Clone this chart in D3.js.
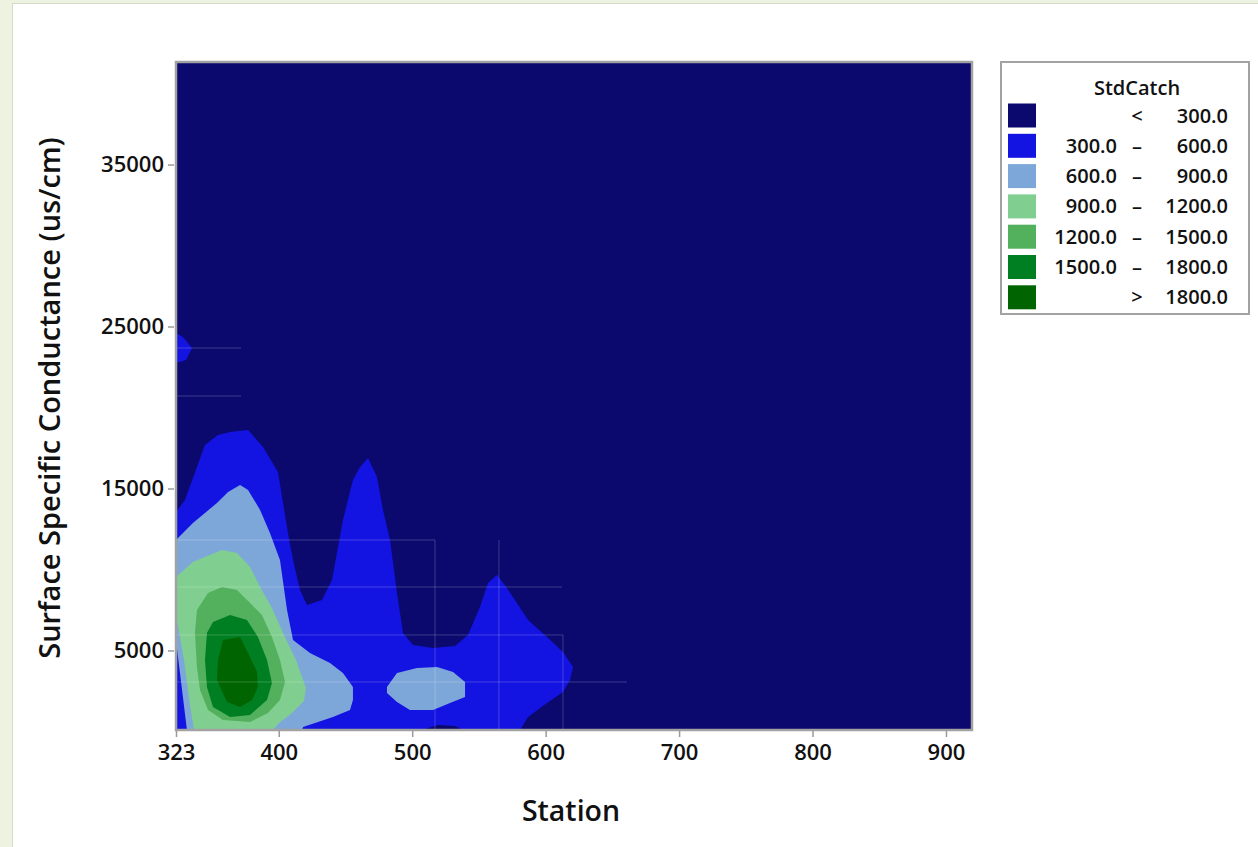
<!DOCTYPE html>
<html>
<head>
<meta charset="utf-8">
<script src="https://cdn.jsdelivr.net/npm/d3@7"></script>
<style>
  html, body { margin: 0; padding: 0; background: #eef2e1; }
  svg { display: block; font-family: "Open Sans", "Noto Sans", sans-serif; }
</style>
</head>
<body>
<div id="chart"></div>
<script>
// ticks
const stationTicks = [323, 400, 500, 600, 700, 800, 900];
const condTicks = [5000, 15000, 25000, 35000];

// contour levels of StdCatch and their fills
const levels = [300, 600, 900, 1200, 1500, 1800];
const levelColors = ["#0b096e", "#1414e2", "#7ea7d9", "#80cf90", "#53b05d", "#007f22", "#006400"];

// regions above each level as [station, conductance]
const above300 = [
  [[323, 90], [323, 13550], [329.7, 14290], [344.7, 17685], [354.5, 18303], [363.5, 18488],
   [377, 18611], [388.2, 17562], [399.4, 16019], [403.2, 14105], [406.9, 12253], [410.7, 10587],
   [415.9, 8735], [421.2, 7809], [432.4, 8117], [439.9, 9352], [448.1, 13056], [455.6, 15525],
   [460.9, 16327], [466.9, 16883], [473.6, 15710], [478.1, 13673], [483.4, 11821], [488.6, 8549],
   [493.1, 6080], [500.6, 5340], [515.6, 5154], [532.1, 5278], [541.8, 5957], [550.8, 7685],
   [556.8, 9167], [563.5, 9661], [571, 8858], [586.8, 6883], [601, 5833], [613, 4907],
   [620.5, 3981], [618.2, 3179], [613, 2438], [601, 1759], [586.8, 895], [580.8, 90],
   [538.1, 90], [532.1, 339], [519.4, 401], [507.3, 90]],
  [[323, 24600], [328.2, 24353], [335, 23674], [330.5, 22933], [323, 22748]]
];
const above600 = [
  [[323, 11821], [335.7, 12871], [353.7, 14105], [362, 14784], [371, 15216], [377, 14908],
   [386, 13673], [393.4, 12253], [400.9, 10587], [406.2, 7500], [410.7, 5648], [423.4, 4846],
   [438.4, 4228], [448.1, 3611], [455.6, 2747], [455.6, 1944], [453.4, 1327], [440.6, 895],
   [418.2, 278], [417.4, 90], [331.2, 90], [323.7, 5154], [323, 5154]],
  [[481.1, 2747], [488.6, 3611], [503.6, 3920], [518.6, 3981], [530.6, 3673], [539.6, 3056],
   [539.6, 2130], [528.3, 1759], [515.6, 1327], [498.3, 1327], [488.6, 1821], [481.1, 2376]]
];
const above900 = [
  [[323, 9537], [335.7, 10463], [357.5, 11204], [368.7, 11019], [378.5, 10155], [386, 8920],
   [394.9, 7624], [403.9, 5957], [412.9, 4414], [420.4, 2686], [418.9, 1882], [409.9, 1142],
   [400.2, 525], [395.7, 90], [336.5, 90], [333.5, 1636], [329, 4414], [323.7, 6883], [323, 6883]]
];
const above1200 = [
  [[338.7, 7500], [347, 8549], [357.5, 8920], [368.7, 8735], [378.5, 7932], [387.4, 7191],
   [394.9, 5833], [400.9, 4414], [404.7, 3056], [400.9, 1944], [391.9, 1142], [378.5, 586],
   [358.2, 710], [347, 1327], [341, 2562], [338.7, 3981], [337.2, 6080]]
];
const above1500 = [
  [[346.2, 6080], [350.7, 6759], [363.5, 7191], [376.2, 6883], [384.4, 5833], [391.2, 4414],
   [394.9, 2994], [391.2, 1944], [378.5, 1018], [363.5, 895], [350.7, 1512], [346.2, 2747],
   [344.7, 4414]]
];
const above1800 = [
  [[358.2, 5648], [371, 5833], [377, 4846], [383.7, 3673], [384.4, 2747], [380, 1944],
   [371, 1512], [361.2, 1821], [353.7, 3179], [354.5, 4414]]
];

// faint mesh lines left by the contouring, [station, cond] to [station, cond]
const meshLines = [
  [[323, 23673], [371.7, 23673]],
  [[323, 20710], [371.7, 20710]],
  [[323, 11821], [517.1, 11821]],
  [[323, 8920], [612.2, 8920]],
  [[323, 5957], [613, 5957]],
  [[323, 3056], [661, 3056]],
  [[517.1, 11821], [517.1, 90]],
  [[565, 11821], [565, 90]],
  [[613, 5957], [613, 90]]
];

const regions = [above300, above600, above900, above1200, above1500, above1800];

const W = 1258, H = 847;
const plot = { left: 176, right: 972, top: 62, bottom: 730 };

const svg = d3.select("#chart").append("svg")
  .attr("width", W)
  .attr("height", H);

// page panel
svg.append("rect").attr("width", W).attr("height", H).attr("fill", "#eef2e1");
svg.append("rect")
  .attr("x", 12.5).attr("y", 3.5)
  .attr("width", W).attr("height", H)
  .attr("fill", "#ffffff")
  .attr("stroke", "#d6dacb");

const x = d3.scaleLinear().domain([323, 919.5]).range([plot.left, plot.right]);
const y = d3.scaleLinear().domain([90, 41330]).range([plot.bottom, plot.top]);

svg.append("defs").append("clipPath")
  .attr("id", "clip")
  .append("rect")
  .attr("x", plot.left).attr("y", plot.top)
  .attr("width", plot.right - plot.left)
  .attr("height", plot.bottom - plot.top);

const g = svg.append("g").attr("clip-path", "url(#clip)");

// lowest band fills the whole area
g.append("rect")
  .attr("x", plot.left).attr("y", plot.top)
  .attr("width", plot.right - plot.left)
  .attr("height", plot.bottom - plot.top)
  .attr("fill", levelColors[0]);

const line = d3.line().x(d => x(d[0])).y(d => y(d[1]));

regions.forEach((polys, i) => {
  g.selectAll("path.band" + i)
    .data(polys)
    .join("path")
    .attr("class", "band" + i)
    .attr("d", d => line(d) + "Z")
    .attr("fill", levelColors[i + 1]);
});

g.selectAll("line.mesh")
  .data(meshLines)
  .join("line")
  .attr("class", "mesh")
  .attr("x1", d => x(d[0][0])).attr("y1", d => y(d[0][1]))
  .attr("x2", d => x(d[1][0])).attr("y2", d => y(d[1][1]))
  .attr("stroke", "#ffffff")
  .attr("stroke-opacity", 0.2)
  .attr("stroke-width", 1);

// frame
svg.append("rect")
  .attr("x", plot.left).attr("y", plot.top)
  .attr("width", plot.right - plot.left)
  .attr("height", plot.bottom - plot.top)
  .attr("fill", "none")
  .attr("stroke", "#a2a2a2")
  .attr("stroke-width", 2.5);

// axes
const gx = svg.append("g")
  .attr("transform", `translate(0,${plot.bottom + 1})`)
  .call(d3.axisBottom(x).tickValues(stationTicks).tickSize(6).tickPadding(7).tickFormat(d3.format("d")));
const gy = svg.append("g")
  .attr("transform", `translate(${plot.left - 2},0)`)
  .call(d3.axisLeft(y).tickValues(condTicks).tickSize(6).tickPadding(4).tickFormat(d3.format("d")));

[gx, gy].forEach(a => {
  a.select(".domain").remove();
  a.selectAll(".tick line").attr("stroke", "#9a9a9a").attr("stroke-width", 1.5);
  a.selectAll(".tick text")
    .attr("fill", "#111")
    .style("font-size", "22px")
    .style("font-weight", 600)
    .style("font-family", "'Open Sans', sans-serif");
});

// axis titles
svg.append("text")
  .attr("x", 571).attr("y", 821)
  .attr("text-anchor", "middle")
  .style("font-size", "28.5px")
  .style("font-weight", 600)
  .attr("fill", "#111")
  .text("Station");

svg.append("text")
  .attr("transform", "translate(60,398) rotate(-90)")
  .attr("text-anchor", "middle")
  .style("font-size", "29px")
  .style("font-weight", 600)
  .attr("fill", "#111")
  .text("Surface Specific Conductance (us/cm)");

// legend
const legend = svg.append("g");
legend.append("rect")
  .attr("x", 1001).attr("y", 62)
  .attr("width", 248).attr("height", 252)
  .attr("fill", "#fff")
  .attr("stroke", "#a2a2a2")
  .attr("stroke-width", 2);

legend.append("text")
  .attr("x", 1137).attr("y", 95)
  .attr("text-anchor", "middle")
  .style("font-size", "20px")
  .style("font-weight", 600)
  .attr("fill", "#111")
  .text("StdCatch");

const fmt = d3.format(".1f");
const legendRows = levelColors.map((c, i) => {
  if (i === 0) return { color: c, lo: "", mid: "<", hi: fmt(levels[0]) };
  if (i === levels.length) return { color: c, lo: "", mid: ">", hi: fmt(levels[i - 1]) };
  return { color: c, lo: fmt(levels[i - 1]), mid: "\u2013", hi: fmt(levels[i]) };
});

const rows = legend.selectAll("g.row")
  .data(legendRows)
  .join("g")
  .attr("class", "row")
  .attr("transform", (d, i) => `translate(0,${115.5 + i * 30.3})`);

rows.append("rect")
  .attr("x", 1008).attr("y", -12)
  .attr("width", 28).attr("height", 24)
  .attr("fill", d => d.color);

const textStyle = sel => sel
  .attr("dy", "0.35em")
  .style("font-size", "20px")
  .style("font-weight", 600)
  .attr("fill", "#111");

rows.append("text").attr("x", 1117).attr("text-anchor", "end").call(textStyle).text(d => d.lo);
rows.append("text").attr("x", 1137).attr("text-anchor", "middle").call(textStyle).text(d => d.mid);
rows.append("text").attr("x", 1228).attr("text-anchor", "end").call(textStyle).text(d => d.hi);
</script>
</body>
</html>
